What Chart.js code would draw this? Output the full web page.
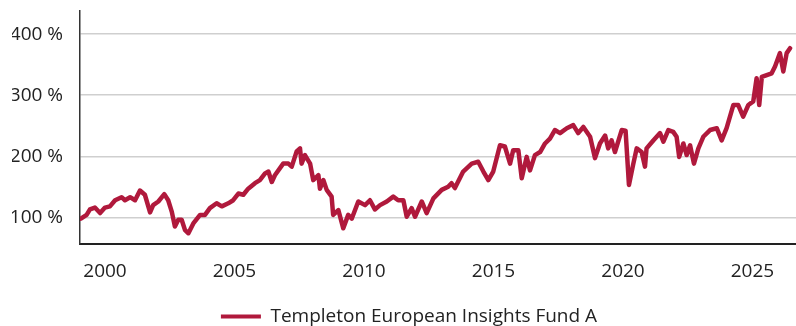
<!DOCTYPE html>
<html>
<head>
<meta charset="utf-8">
<script src="https://cdn.jsdelivr.net/npm/chart.js@4"></script>
<style>
  html, body { margin: 0; padding: 0; background: #fff; }
  #wrap { width: 796px; height: 326px; }
</style>
</head>
<body>
<div id="wrap"><canvas id="fundChart"></canvas></div>
<script>
// Indexed performance, fund A (decimal years)
const years = [
  1999.07, 1999.29, 1999.42, 1999.61, 1999.81, 2000.00, 2000.19, 2000.39, 2000.64, 2000.77,
  2000.97, 2001.16, 2001.35, 2001.54, 2001.74, 2001.86, 2002.06, 2002.29, 2002.44, 2002.58,
  2002.70, 2002.83, 2002.96, 2003.09, 2003.22, 2003.41, 2003.67, 2003.86, 2004.05, 2004.31,
  2004.51, 2004.76, 2004.95, 2005.15, 2005.34, 2005.53, 2005.79, 2005.98, 2006.18, 2006.31,
  2006.44, 2006.56, 2006.88, 2007.08, 2007.21, 2007.40, 2007.53, 2007.59, 2007.72, 2007.92,
  2008.04, 2008.24, 2008.30, 2008.43, 2008.56, 2008.75, 2008.81, 2009.01, 2009.20, 2009.39,
  2009.53, 2009.78, 2010.04, 2010.23, 2010.42, 2010.62, 2010.88, 2011.13, 2011.32, 2011.52,
  2011.65, 2011.84, 2011.97, 2012.23, 2012.42, 2012.68, 2013.00, 2013.25, 2013.38, 2013.51,
  2013.83, 2014.16, 2014.41, 2014.61, 2014.80, 2014.99, 2015.25, 2015.44, 2015.64, 2015.76,
  2015.96, 2016.09, 2016.28, 2016.41, 2016.60, 2016.80, 2016.99, 2017.18, 2017.37, 2017.57,
  2017.83, 2018.08, 2018.27, 2018.47, 2018.73, 2018.92, 2019.11, 2019.31, 2019.43, 2019.56,
  2019.69, 2019.95, 2020.10, 2020.23, 2020.40, 2020.53, 2020.72, 2020.85, 2020.91, 2021.17,
  2021.43, 2021.56, 2021.75, 2021.94, 2022.07, 2022.17, 2022.33, 2022.46, 2022.59, 2022.74,
  2022.91, 2023.10, 2023.36, 2023.62, 2023.81, 2024.00, 2024.26, 2024.45, 2024.64, 2024.84,
  2025.03, 2025.16, 2025.26, 2025.36, 2025.55, 2025.74, 2025.87, 2026.06, 2026.19, 2026.32,
  2026.45
];
const values = [
  98, 104, 113, 116, 107, 116, 118, 128, 133, 128,
  133, 128, 144, 137, 108, 120, 126, 138, 128, 109,
  85, 96, 96, 79, 74, 90, 104, 104, 115, 123,
  118, 123, 128, 139, 137, 147, 156, 161, 172, 175,
  158, 169, 188, 188, 183, 208, 213, 188, 202, 188,
  161, 169, 147, 161, 145, 134, 104, 112, 82, 104,
  98, 126, 120, 128, 113, 120, 126, 134, 128, 128,
  101, 115, 101, 126, 107, 131, 145, 150, 156, 148,
  175, 188, 191, 175, 161, 175, 218, 216, 188, 210,
  210, 164, 199, 177, 202, 207, 221, 229, 243, 238,
  246, 251, 238, 248, 232, 197, 221, 234, 213, 226,
  207, 243, 242, 153, 188, 213, 207, 183, 213, 226,
  238, 224, 243, 240, 232, 199, 221, 202, 218, 188,
  213, 232, 243, 246, 226, 246, 284, 284, 265, 284,
  290, 328, 284, 330, 333, 336, 347, 369, 339, 369,
  377
];
const yearTicks = [2000, 2005, 2010, 2015, 2020, 2025];
const percentTicks = [100, 200, 300, 400];
const seriesName = "Templeton European Insights Fund A";

const lineColor = "#b0193c";
const textColor = "#222222";
const fontFamily = "'Open Sans', 'Noto Sans', sans-serif";

const points = years.map((y, i) => ({ x: y, y: values[i] }));

// nudge the legend a few px to the right of the canvas centre
const legendNudge = {
  id: "legendNudge",
  afterLayout(chart) {
    chart.legend.left += 5;
    chart.legend.right += 5;
  },
};

new Chart(document.getElementById("fundChart"), {
  type: "line",
  data: {
    datasets: [
      {
        label: seriesName,
        data: points,
        borderColor: lineColor,
        backgroundColor: lineColor,
        borderWidth: 4.5,
        pointRadius: 0,
        tension: 0,
        borderJoinStyle: "round",
        borderCapStyle: "round",
      },
    ],
  },
  plugins: [legendNudge],
  options: {
    responsive: true,
    maintainAspectRatio: false,
    animation: false,
    layout: {
      // legend sits slightly below the canvas edge
      padding: { top: 11, right: 0, left: 12, bottom: -10 },
    },
    scales: {
      x: {
        type: "linear",
        min: 1999.035,
        max: 2026.68,
        afterBuildTicks: (axis) => {
          axis.ticks = yearTicks.map((v) => ({ value: v }));
        },
        grid: { display: false, drawTicks: false },
        border: { color: "#222", width: 2 },
        ticks: {
          color: textColor,
          font: { family: fontFamily, size: 19 },
          padding: 16,
          maxRotation: 0,
          callback: (v) => String(v),
        },
      },
      y: {
        min: 56,
        max: 438,
        afterBuildTicks: (axis) => {
          axis.ticks = percentTicks.map((v) => ({ value: v }));
        },
        afterFit: (axis) => {
          // fixed axis width, no extra room for the top label
          axis.width = 68;
          axis.paddingTop = 0;
          axis.paddingBottom = 0;
        },
        grid: { color: "#cfcfcf", lineWidth: 1.5, drawTicks: false },
        border: { color: "#333", width: 1.5 },
        ticks: {
          color: textColor,
          font: { family: fontFamily, size: 19 },
          padding: 17,
          callback: (v) => v + " %",
        },
      },
    },
    plugins: {
      tooltip: { enabled: false },
      legend: {
        position: "bottom",
        align: "center",
        labels: {
          color: textColor,
          font: { family: fontFamily, size: 19 },
          boxWidth: 40,
          boxHeight: 4,
          padding: 8,
          generateLabels: (chart) =>
            chart.data.datasets.map((ds, i) => ({
              text: ds.label,
              fillStyle: ds.borderColor,
              strokeStyle: ds.borderColor,
              lineWidth: 0,
              hidden: false,
              datasetIndex: i,
              fontColor: textColor,
            })),
        },
      },
    },
  },
});
</script>
</body>
</html>
